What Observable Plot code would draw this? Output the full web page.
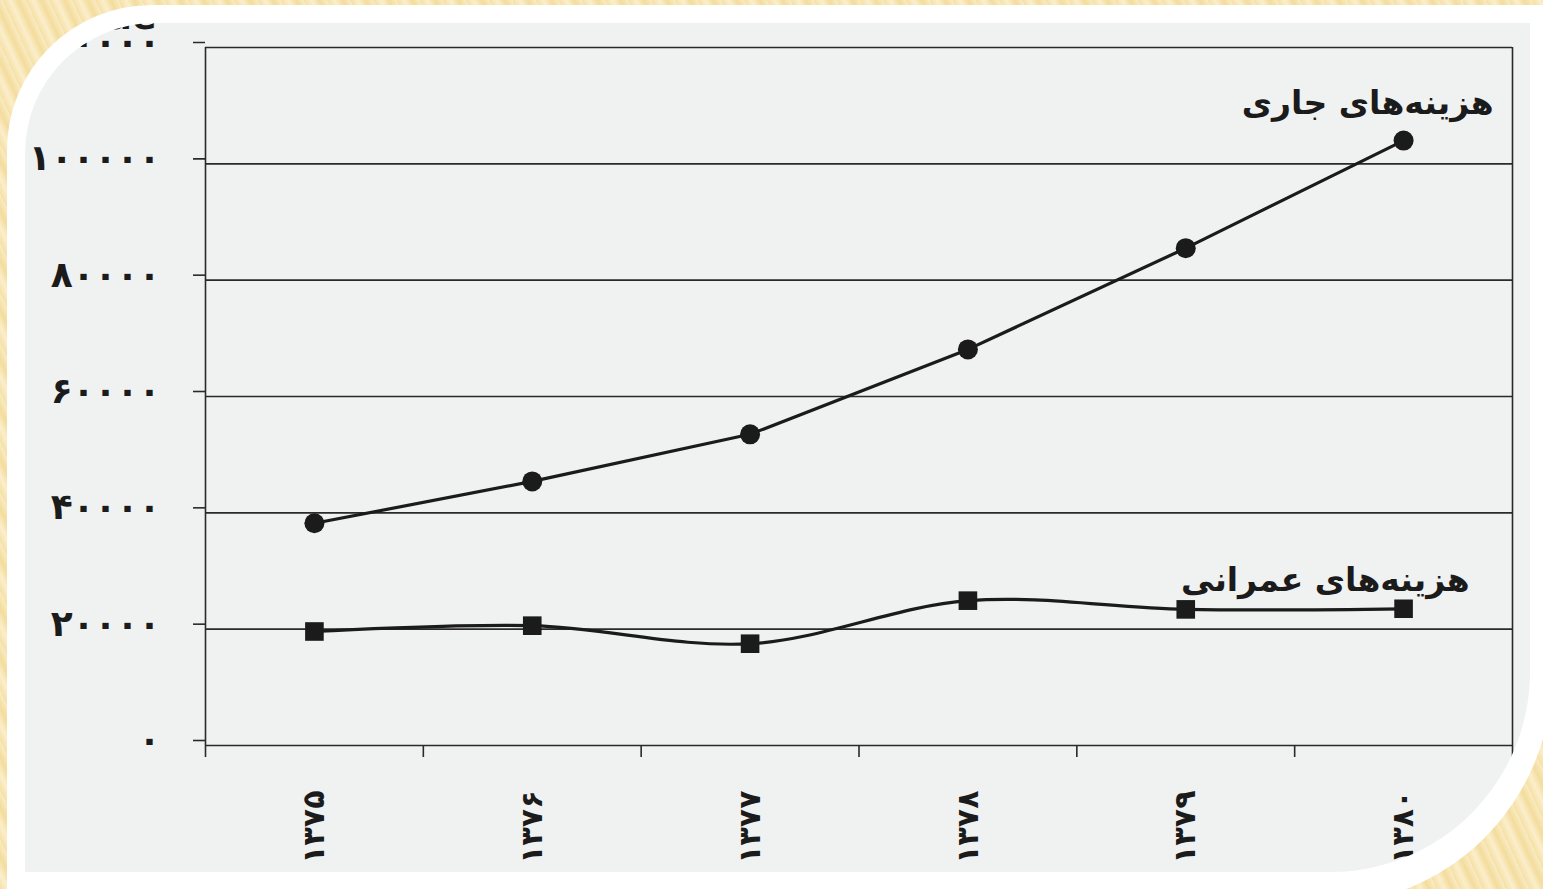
<!DOCTYPE html>
<html>
<head>
<meta charset="utf-8">
<script src="https://cdn.jsdelivr.net/npm/d3@7"></script>
<script src="https://cdn.jsdelivr.net/npm/@observablehq/plot@0.6"></script>
<style>
  html, body { margin: 0; padding: 0; }
  body {
    width: 1543px; height: 889px; overflow: hidden; position: relative;
    background: repeating-linear-gradient(65deg, #f5e0a6 0px, #fbeecb 7px, #f3dc9c 14px, #f9ebc2 21px);
  }
  #white {
    position: absolute; left: 7px; top: 5px; width: 1545px; height: 900px;
    background: #ffffff; border-radius: 145px 0 230px 0;
  }
  #gray {
    position: absolute; left: 25px; top: 23px; width: 1505px; height: 849px;
    background: #f0f1f1; border-radius: 130px 0 200px 0; overflow: hidden;
  }
  #chart { position: absolute; left: -25px; top: -23px; width: 1543px; height: 889px; }
  #chart svg { font-family: "DejaVu Sans", sans-serif; max-width: none !important; }
</style>
</head>
<body>
<div id="white"></div>
<div id="gray"><div id="chart"></div></div>
<script>
// Years (Persian calendar), shown rotated below the axis
const years = ["۱۳۷۵", "۱۳۷۶", "۱۳۷۷", "۱۳۷۸", "۱۳۷۹", "۱۳۸۰"];
// Current expenditures (هزینه‌های جاری)
const currentCosts = [38200, 45400, 53500, 68100, 85500, 104000];
// Development expenditures (هزینه‌های عمرانی)
const developmentCosts = [19600, 20600, 17500, 24900, 23400, 23500];
// Series names
const seriesNames = ["هزینه‌های جاری", "هزینه‌های عمرانی"];
// Y tick values and their labels
const yTicks = [0, 20000, 40000, 60000, 80000, 100000, 120000];
const yTickLabels = ["۰", "۲۰۰۰۰", "۴۰۰۰۰", "۶۰۰۰۰", "۸۰۰۰۰", "۱۰۰۰۰۰", "۱۲۰۰۰۰"];

const current = years.map((y, i) => ({i, year: y, value: currentCosts[i]}));
const development = years.map((y, i) => ({i, year: y, value: developmentCosts[i]}));
const boundaries = d3.range(years.length + 1).map(k => k - 0.5);
const ink = "#1b1b1b";

const chart = Plot.plot({
  width: 1543,
  height: 889,
  marginLeft: 205,
  marginRight: 31,
  marginTop: 47,
  marginBottom: 144,
  style: {background: "transparent", overflow: "visible", fontFamily: "DejaVu Sans, sans-serif", maxWidth: "none"},
  x: {type: "linear", domain: [-0.5, years.length - 0.5], axis: null},
  y: {domain: [0, 120000], axis: null},
  marks: [
    Plot.gridY(yTicks, {stroke: "#2a2a2a", strokeOpacity: 1, strokeWidth: 1.6}),
    Plot.ruleX([-0.5, years.length - 0.5], {y1: 0, y2: 120000, stroke: "#2a2a2a", strokeWidth: 1.6}),
    Plot.axisY(yTicks, {
      tickSize: 12, tickPadding: 33, stroke: "#2a2a2a", strokeWidth: 1.6, dy: -5,
      tickFormat: d => yTickLabels[yTicks.indexOf(d)],
      fontSize: 36, fontWeight: "bold", fill: ink
    }),
    Plot.ruleX(boundaries, {y1: 0, y2: 0, insetBottom: -12, stroke: "#2a2a2a", strokeWidth: 1.6}),
    Plot.axisX(d3.range(years.length), {
      tickSize: 0, tickPadding: 45, tickRotate: -90,
      tickFormat: d => years[d], fontSize: 30, fontWeight: "bold", fill: ink
    }),
    Plot.line(current, {x: "i", y: "value", stroke: ink, strokeWidth: 3.2}),
    Plot.line(development, {x: "i", y: "value", stroke: ink, strokeWidth: 3.2, curve: "catmull-rom"}),
    Plot.dot(current, {x: "i", y: "value", r: 10, fill: ink, stroke: "none", symbol: "circle"}),
    Plot.dot(development, {x: "i", y: "value", r: 10.5, fill: ink, stroke: "none", symbol: "square"}),
    Plot.text([current[current.length - 1]], {
      x: "i", y: "value", text: () => seriesNames[0], dx: 90, dy: -37,
      textAnchor: "end", fontSize: 33, fontWeight: "bold", fill: ink
    }),
    Plot.text([development[development.length - 1]], {
      x: "i", y: "value", text: () => seriesNames[1], dx: 66, dy: -28,
      textAnchor: "end", fontSize: 33, fontWeight: "bold", fill: ink
    })
  ]
});
document.getElementById("chart").appendChild(chart);
</script>
</body>
</html>
